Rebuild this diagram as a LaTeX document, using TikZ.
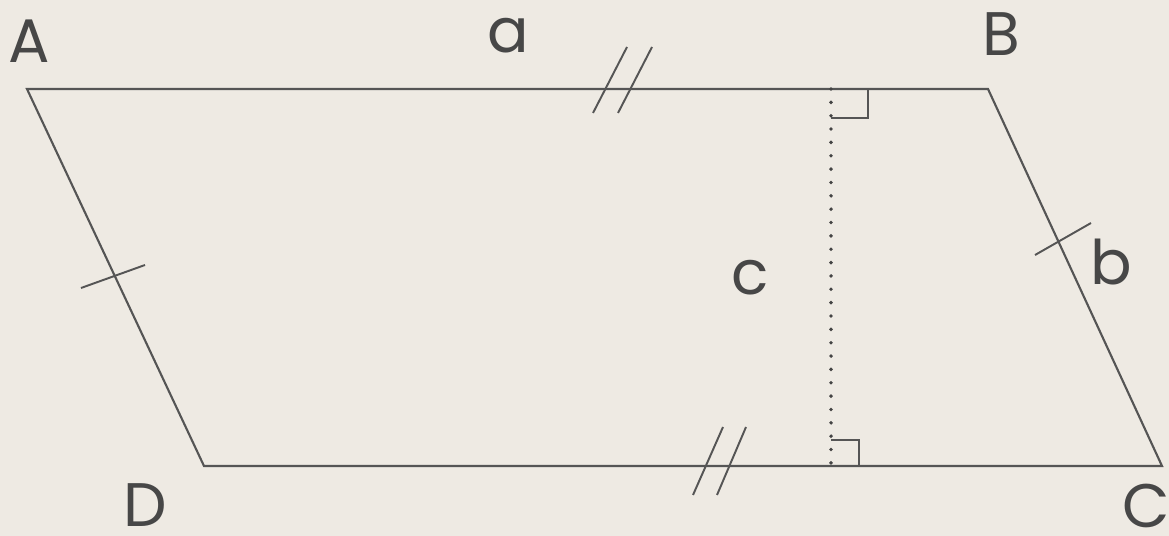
\documentclass[tikz,border=0pt]{standalone}
\usepackage{fontspec}
\setmainfont{Poppins}
\definecolor{sfondo}{HTML}{EEEAE3}
\definecolor{tratto}{HTML}{555555}
\definecolor{testo}{HTML}{474747}
\tikzset{
  lato/.style={tratto, line width=1.2pt, line join=miter},
  segno/.style={tratto, line width=1.1pt},
  etichetta/.style={testo, font=\fontsize{35}{40}\selectfont, inner sep=0pt}
}
\begin{document}
\begin{tikzpicture}[x=0.02cm, y=-0.02cm]
        % Sfondo
        \fill[sfondo] (0,0) rectangle (1169,536);
        \useasboundingbox (0,0) rectangle (1169,536);
        % Vertici
        \coordinate (A) at (27,89);
        \coordinate (B) at (988,89);
        \coordinate (C) at (1162,466);
        \coordinate (D) at (204,466);
        % Parallelogramma
        \draw[lato] (A) -- (B) -- (C) -- (D) -- cycle;
        % Altezza
        \coordinate (H1) at (831,89);
        \coordinate (H2) at (831,466);
        \draw[tratto!80!black, line width=2.2pt, line cap=round, dash pattern=on 0pt off 7.6pt] (H1) -- (H2);
        \draw[segno] (831,118) -- (868,118) -- (868,89);
        \draw[segno] (831,440) -- (859,440) -- (859,466);
        % Segni sui lati
        \draw[segno] (593,113) -- (627,47);
        \draw[segno] (618,113) -- (652,47);
        \draw[segno] (693,495) -- (723,427);
        \draw[segno] (717,495) -- (746,427);
        \draw[segno] (81,288) -- (145,265);
        \draw[segno] (1035,255) -- (1091,223);
        % Etichette
        \node[etichetta] (lA) at (29,41) {A};
        \node[etichetta] (lB) at (1001,34) {B};
        \node[etichetta] (lC) at (1146,506) {C};
        \node[etichetta] (lD) at (145,505) {D};
        \node[etichetta] (la) at (508,36) {a};
        \node[etichetta] (lb) at (1111,262) {b};
        \node[etichetta] (lc) at (750,278) {c};
\end{tikzpicture}
\end{document}
